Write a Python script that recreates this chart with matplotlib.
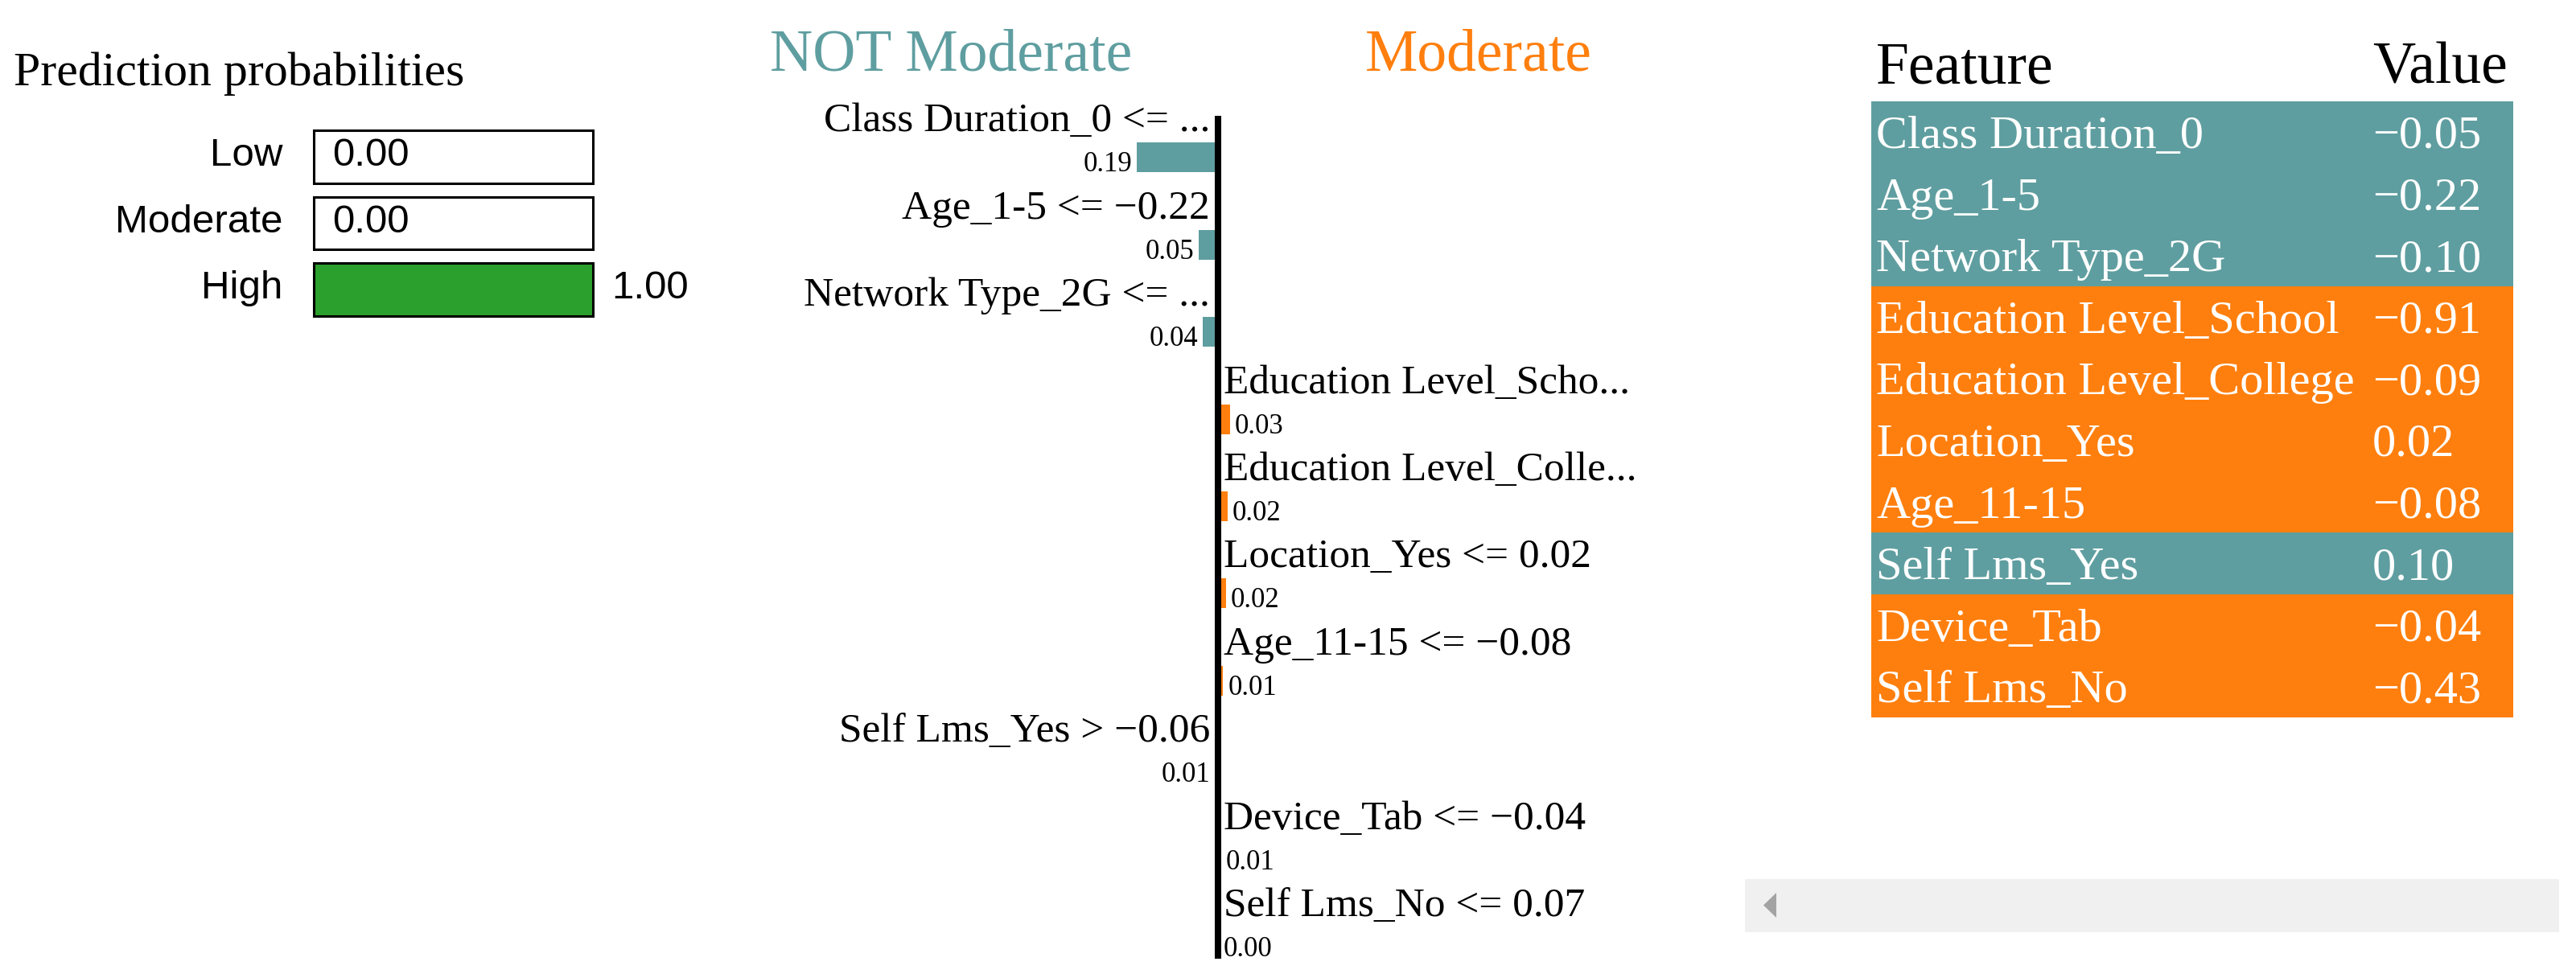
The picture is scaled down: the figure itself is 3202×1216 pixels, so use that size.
import matplotlib
matplotlib.use("Agg")
import matplotlib.pyplot as plt
from matplotlib.patches import Rectangle, Polygon

# Prediction probabilities
class_names = ["Low", "Moderate", "High"]
class_probs = [0.00, 0.00, 1.00]

# Explanation for the class "Moderate"
feature_rules = [
    "Class Duration_0 <= ...",
    "Age_1-5 <= \u22120.22",
    "Network Type_2G <= ...",
    "Education Level_Scho...",
    "Education Level_Colle...",
    "Location_Yes <= 0.02",
    "Age_11-15 <= \u22120.08",
    "Self Lms_Yes > \u22120.06",
    "Device_Tab <= \u22120.04",
    "Self Lms_No <= 0.07",
]
weights = [-0.192, -0.046, -0.036, 0.028, 0.022, 0.019, 0.012, -0.007, 0.006, 0.002]

# Feature / value table
table_features = [
    "Class Duration_0",
    "Age_1-5",
    "Network Type_2G",
    "Education Level_School",
    "Education Level_College",
    "Location_Yes",
    "Age_11-15",
    "Self Lms_Yes",
    "Device_Tab",
    "Self Lms_No",
]
table_values = [-0.05, -0.22, -0.10, -0.91, -0.09, 0.02, -0.08, 0.10, -0.04, -0.43]

TEAL = "#5f9ea0"
ORANGE = "#ff7f0e"
GREEN = "#2ca02c"
SERIF = ["Liberation Serif", "DejaVu Serif"]
SANS = ["Liberation Sans", "DejaVu Sans"]

W, H = 3202, 1216
fig = plt.figure(figsize=(W / 100, H / 100), dpi=100)


def px_axes(x0, y0, x1, y1):
    ax = fig.add_axes([x0 / W, 1 - y1 / H, (x1 - x0) / W, (y1 - y0) / H])
    ax.set_axis_off()
    return ax


def fig_text(x, y, s, **kw):
    fig.text(x / W, 1 - y / H, s, va="baseline", **kw)


def minus(v):
    return f"{v:.2f}".replace("-", "\u2212")


# background layer (scrollbar of the html table)
bg = px_axes(0, 0, W, H)
bg.set_xlim(0, W)
bg.set_ylim(H, 0)
bg.add_patch(Rectangle((2169, 1093), 1012, 66, color="#f0f0f0", lw=0))
bg.add_patch(Polygon([(2208, 1110), (2192, 1125.5), (2208, 1141)], color="#a3a3a3", lw=0))

# --- prediction probabilities ---
fig_text(17, 106, "Prediction probabilities", fontsize=43, family=SERIF)

pitch_p = 82.5
ax_p = px_axes(390, 195 - pitch_p / 2, 737, 195 + 2.5 * pitch_p)
ax_p.set_xlim(0, 1)
ax_p.set_ylim(2.5, -0.5)
rows_p = range(len(class_names))
ax_p.barh(rows_p, class_probs, height=0.8, color=GREEN, clip_on=False)
ax_p.barh(rows_p, [1] * len(class_names), height=0.8, fill=False,
          edgecolor="black", linewidth=2.2, clip_on=False)
for i, (name, p) in enumerate(zip(class_names, class_probs)):
    ax_p.annotate(name, xy=(0, i), xytext=(-39, 1), textcoords="offset pixels",
                  ha="right", va="center", fontsize=35.5, family=SANS)
    ax_p.annotate(f"{p:.2f}", xy=(p, i), xytext=(23, 1), textcoords="offset pixels",
                  ha="left", va="center", fontsize=35.5, family=SANS)

# --- explanation bars ---
fig_text(957, 87, "NOT Moderate", fontsize=53, color=TEAL, family=SERIF)
fig_text(1697, 87, "Moderate", fontsize=53, color=ORANGE, family=SERIF)

pitch_e = 108.4
n = len(weights)
ax_e = px_axes(1014, 196 - pitch_e / 2, 2014, 196 + (n - 0.5) * pitch_e)
ax_e.set_xlim(-0.952, 0.952)
ax_e.set_ylim(n - 0.5, -0.5)
bar_h = 37 / pitch_e
colors = [ORANGE if w > 0 else TEAL for w in weights]
ax_e.barh(range(n), weights, height=bar_h, color=colors, clip_on=False)
ax_e.plot([0, 0], [-0.48, n - 1 + bar_h / 2 + 0.02], color="black", lw=5.8,
          solid_capstyle="butt", clip_on=False, zorder=3)
for i, (rule, w) in enumerate(zip(feature_rules, weights)):
    right = w > 0
    ax_e.annotate(rule, xy=(0, i - bar_h / 2), xytext=(7 if right else -10, 14),
                  textcoords="offset pixels", ha="left" if right else "right",
                  va="baseline", fontsize=37, family=SERIF)
    ax_e.annotate(f"{abs(w):.2f}", xy=(w, i + bar_h / 2), xytext=(6 if right else -6, 1),
                  textcoords="offset pixels", ha="left" if right else "right",
                  va="baseline", fontsize=25, family=SERIF)

# --- feature table ---
fig_text(2332, 104, "Feature", fontsize=53, family=SERIF)
fig_text(2949, 104, "Value", fontsize=53, family=SERIF)

ax_t = px_axes(2326, 126, 3124, 892)
m = len(table_features)
ax_t.set_xlim(0, 1)
ax_t.set_ylim(m, 0)
ax_t.barh(range(m), [1] * m, height=1, left=0, align="edge", color=colors, lw=0)
for i, (feat, val) in enumerate(zip(table_features, table_values)):
    ax_t.text(6 / 798, i + 0.757, feat, color="white", fontsize=42, va="baseline", family=SERIF)
    ax_t.text(623 / 798, i + 0.757, minus(val), color="white", fontsize=42, va="baseline", family=SERIF)

fig.savefig("out.png", dpi=100, facecolor="white")
